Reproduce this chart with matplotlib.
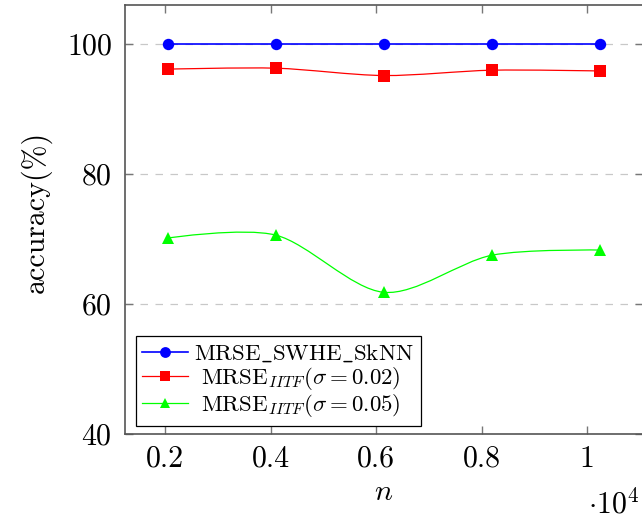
import numpy as np
import matplotlib
matplotlib.use("Agg")
import matplotlib.pyplot as plt
from matplotlib.path import Path
from matplotlib.patches import PathPatch
from matplotlib.lines import Line2D

plt.rcParams["font.family"] = "serif"
plt.rcParams["font.serif"] = ["cmr10"]
plt.rcParams["mathtext.fontset"] = "cm"
plt.rcParams["axes.formatter.use_mathtext"] = True

# database size n and search accuracy in percent
n_values = [2048, 4096, 6144, 8192, 10240]
acc_skknn = [100.0, 100.0, 100.0, 100.0, 100.0]
acc_iitf_002 = [96.13, 96.28, 95.15, 95.97, 95.85]
acc_iitf_005 = [70.15, 70.6, 61.8, 67.5, 68.3]

x_tick_pos = [2000, 4000, 6000, 8000, 10000]
x_tick_labels = ["0.2", "0.4", "0.6", "0.8", "1"]
y_ticks = [40, 60, 80, 100]

series = [
    (r"$\mathrm{MRSE\_SWHE\_SkNN}$", acc_skknn, "#0000ff", "o", 8.2, 1.2),
    (r"MRSE$_{IITF}(\sigma = 0.02)$", acc_iitf_002, "#ff0000", "s", 8.0, 0.9),
    (r"MRSE$_{IITF}(\sigma = 0.05)$", acc_iitf_005, "#00ff00", "^", 8.0, 0.9),
]


def smooth_path(xs, ys, k=0.15):
    # bezier through the points, support points from the neighbours
    pts = np.column_stack([xs, ys]).astype(float)
    verts = [pts[0]]
    codes = [Path.MOVETO]
    n = len(pts)
    for i in range(n - 1):
        p0, p1 = pts[i], pts[i + 1]
        c1 = p0 + k * (pts[i + 1] - pts[i - 1]) if i > 0 else p0
        c2 = p1 - k * (pts[i + 2] - pts[i]) if i + 2 < n else p1
        verts += [c1, c2, p1]
        codes += [Path.CURVE4] * 3
    return Path(verts, codes)


fig = plt.figure(figsize=(6.42, 5.16), dpi=100)
ax = fig.add_axes([0.1941, 0.1589, 0.8073, 0.8314])

handles = []
for label, vals, color, marker, ms, lw in series:
    patch = PathPatch(smooth_path(n_values, vals), facecolor="none",
                      edgecolor=color, lw=lw, zorder=3)
    ax.add_patch(patch)
    ax.plot(n_values, vals, linestyle="none", marker=marker, markersize=ms,
            color=color, markeredgewidth=0, zorder=4)
    handles.append(Line2D([], [], color=color, lw=lw, marker=marker,
                          markersize=ms * 0.95, markeredgewidth=0, label=label))

ax.set_xlim(1228.8, 11059.2)
ax.set_ylim(40, 106)
ax.set_xticks(x_tick_pos)
ax.set_xticklabels(x_tick_labels)
ax.set_yticks(y_ticks)

ax.yaxis.grid(True, color="#c8c8c8", linestyle=(0, (6, 6)), lw=0.9, zorder=0)
ax.set_axisbelow(True)

for sp in ax.spines.values():
    sp.set_color("#555555")
    sp.set_linewidth(1.2)

ax.tick_params(direction="in", length=6, width=1.0, color="#777777",
               top=True, right=True, labelsize=21.5)
ax.tick_params(axis="x", pad=8)
ax.tick_params(axis="y", pad=9)

fig.text(36 / 642, 1 - 211.5 / 516, "accuracy(%)", rotation=90,
         ha="center", va="center", fontsize=21.5)
fig.text(383.7 / 642, 1 - 492 / 516, r"$n$", ha="center", va="center",
         fontsize=21.5)
fig.text(639.5 / 642, 1 - 513 / 516, r"$\cdot 10^4$", ha="right",
         va="baseline", fontsize=21.5)

leg = ax.legend(handles=handles, loc="lower left",
                bbox_to_anchor=(11 / 518.3, 8 / 429), borderaxespad=0,
                fontsize=16.5, handlelength=2.0, handletextpad=0.25,
                borderpad=0.3, labelspacing=0.02, fancybox=False,
                framealpha=1, edgecolor="black")
leg.get_frame().set_linewidth(0.9)

# centre the shorter entries in the legend column
for txt in leg.get_texts()[1:]:
    txt.set_x(6.5)

fig.savefig("out.png", dpi=100)
